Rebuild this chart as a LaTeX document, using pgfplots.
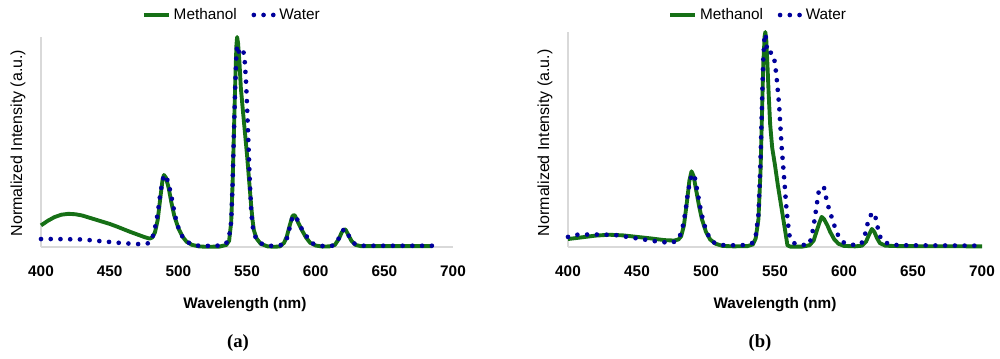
\documentclass[border=0pt]{standalone}
\usepackage{fontspec}
\setmainfont{Liberation Sans}
\newfontfamily\timesf{Liberation Serif}
\usepackage{pgfplots}
\pgfplotsset{compat=1.18}
\definecolor{mgreen}{RGB}{22,112,22}
\definecolor{wblue}{RGB}{0,0,155}
\definecolor{axgray}{RGB}{217,217,217}
\pgfplotsset{
  spec/.style={
    scale only axis,
    anchor=south west,
    xmin=400, xmax=700, ymin=0, ymax=1,
    axis x line=bottom, axis y line=left,
    axis line style={axgray, line width=0.9pt, -},
    xtick={400,450,...,700}, ytick=\empty,
    major tick length=0pt,
    /pgf/number format/assume math mode=true,
    xticklabel style={font=\fontsize{11.5}{13}\selectfont\bfseries, anchor=center, yshift=-18.5pt},
    xlabel={Wavelength (nm)},
    xlabel style={font=\fontsize{11.5}{13}\selectfont\bfseries, at={(axis description cs:0.495,0)}, anchor=center, yshift=-43.5pt},
    ylabel={Normalized Intensity (a.u.)},
    ylabel style={font=\fontsize{12}{14}\selectfont, at={(axis description cs:0,0.5)}, anchor=center, yshift=17.3pt},
    clip=false,
    legend columns=2,
    legend style={draw=none, fill=none, font=\fontsize{11.5}{13}\selectfont, inner sep=0pt,
      /tikz/every even column/.append style={column sep=9pt}},
    legend cell align=left,
  },
  meth/.style={mgreen, line width=2.9pt, line join=round,
    legend image code/.code={\draw[##1] (0pt,0pt) -- (19pt,0pt);}},
  wat/.style={wblue, line width=3.5pt, line cap=round, dash pattern=on 0pt off 7.3pt,
    legend image code/.code={\draw[##1] (1.5pt,0pt) -- (17pt,0pt);}},
}
\begin{document}
\begin{tikzpicture}
\useasboundingbox (0,0) rectangle (750pt,268.5pt);
% ---------------- (a)
\begin{axis}[spec, at={(30.75pt,83.25pt)}, width=309pt, height=157.5pt,
  ylabel style={at={(axis description cs:0,0.495)}},
  legend style={at={(axis description cs:0.464,1.105)}, anchor=center}]
\addplot[meth] coordinates {
(400,0.103)(405,0.125)(410,0.143)(415,0.154)(420,0.158)(425,0.156)(430,0.150)(435,0.140)(440,0.130)(445,0.120)(450,0.110)(455,0.098)(460,0.085)(465,0.072)(470,0.060)(475,0.048)(479,0.040)(481,0.045)(483,0.07)(485,0.13)(487,0.24)(488.5,0.32)(489.5,0.343)(491,0.33)(493,0.28)(495,0.21)(497,0.15)(500,0.09)(503,0.05)(506,0.025)(510,0.01)(515,0.003)(520,0.001)(530,0.002)(535,0.01)(537,0.03)(538.5,0.12)(539.5,0.3)(540.5,0.55)(541.5,0.8)(542.3,0.96)(542.8,1.0)(543.5,0.97)(544.5,0.88)(545.5,0.76)(547,0.65)(548,0.58)(549,0.51)(550,0.44)(551,0.36)(552,0.28)(553,0.2)(554,0.13)(555,0.08)(557,0.04)(560,0.015)(565,0.003)(570,0.001)(574,0.003)(577,0.02)(579,0.05)(581,0.1)(583,0.145)(584,0.153)(585,0.148)(587,0.12)(590,0.08)(593,0.045)(596,0.02)(600,0.007)(605,0.002)(610,0.003)(614,0.01)(617,0.04)(619,0.07)(621,0.085)(622,0.08)(624,0.055)(626,0.03)(629,0.01)(633,0.004)(640,0.004)(660,0.004)(685,0.004)
};
\addlegendentry{Methanol}
\addplot[wat] coordinates {
(400,0.038)(410,0.038)(420,0.037)(430,0.036)(440,0.03)(450,0.024)(460,0.018)(470,0.014)(476,0.014)(479,0.02)(481,0.04)(483,0.09)(485,0.16)(487,0.26)(489,0.33)(490,0.343)(491,0.34)(493,0.3)(495,0.24)(497,0.17)(499,0.11)(502,0.06)(505,0.03)(510,0.012)(515,0.006)(525,0.005)(532,0.008)(535,0.02)(537,0.05)(538.5,0.12)(539.5,0.3)(540.5,0.55)(541.5,0.78)(542.3,0.92)(542.8,0.96)(544,0.93)(545.5,0.92)(547.2,0.937)(548.2,0.9)(549.2,0.8)(550,0.68)(551,0.5)(552,0.32)(553,0.18)(554,0.1)(556,0.05)(559,0.02)(565,0.006)(572,0.005)(576,0.012)(579,0.04)(581,0.09)(583,0.14)(584.5,0.15)(586,0.14)(588,0.11)(590,0.085)(592,0.065)(594,0.045)(597,0.02)(600,0.01)(606,0.004)(612,0.006)(615,0.02)(618,0.055)(620.5,0.085)(622,0.08)(624,0.055)(626,0.03)(629,0.012)(634,0.006)(645,0.006)(685,0.006)
};
\addlegendentry{Water}
\end{axis}
\node[font=\timesf\fontsize{14}{16}\selectfont\bfseries] at (178.5pt,11pt) {(a)};
% ---------------- (b)
\begin{axis}[spec, at={(426pt,83.25pt)}, width=310.5pt, height=161.25pt,
  xlabel style={at={(axis description cs:0.5,0)}},
  ylabel style={at={(axis description cs:0,0.485)}},
  legend style={at={(axis description cs:0.46,1.079)}, anchor=center}]
\addplot[meth] coordinates {
(400,0.037)(410,0.045)(420,0.053)(430,0.057)(440,0.054)(450,0.047)(460,0.04)(470,0.032)(477,0.03)(480,0.035)(482,0.05)(484,0.1)(486,0.2)(488,0.31)(489.5,0.352)(491,0.33)(493,0.26)(495,0.19)(497,0.13)(500,0.07)(503,0.035)(507,0.015)(512,0.005)(520,0.003)(530,0.004)(534,0.012)(536,0.04)(538,0.13)(539.5,0.35)(540.5,0.6)(541.5,0.85)(542.5,0.98)(543,1.0)(543.7,0.96)(544.5,0.85)(545.5,0.7)(546.5,0.57)(548,0.46)(550,0.38)(552,0.29)(554,0.21)(556,0.13)(558,0.05)(559,0.008)(561,0.002)(570,0.002)(575,0.008)(578,0.03)(580,0.07)(582,0.11)(583.8,0.14)(585.5,0.13)(588,0.1)(590,0.07)(593,0.035)(596,0.015)(600,0.005)(608,0.003)(613,0.006)(616,0.025)(618,0.055)(620.2,0.084)(622,0.07)(624,0.04)(626,0.018)(630,0.006)(640,0.004)(700,0.003)
};
\addlegendentry{Methanol}
\addplot[wat] coordinates {
(400,0.047)(405,0.057)(415,0.058)(425,0.058)(435,0.055)(445,0.045)(455,0.035)(465,0.025)(475,0.019)(479,0.03)(481,0.05)(483,0.09)(485,0.16)(487,0.26)(489,0.32)(490.5,0.341)(492,0.32)(494,0.25)(496,0.18)(498,0.12)(500,0.08)(503,0.035)(507,0.015)(512,0.009)(520,0.008)(530,0.009)(534,0.02)(536,0.05)(538,0.15)(539.5,0.4)(540.5,0.65)(541.5,0.87)(542.5,0.99)(543.2,0.99)(544,0.93)(545,0.9)(547.5,0.905)(549.7,0.865)(551,0.8)(552,0.73)(553,0.66)(554,0.55)(555,0.45)(556,0.37)(557,0.29)(558,0.2)(559.4,0.11)(560.6,0.05)(563,0.02)(568,0.008)(575,0.012)(577.5,0.08)(579,0.14)(581,0.23)(582,0.27)(583.5,0.277)(585.5,0.277)(587,0.23)(589,0.18)(591,0.14)(593,0.1)(596,0.05)(600,0.02)(606,0.01)(612,0.012)(614.4,0.034)(616,0.08)(617.8,0.127)(620,0.155)(622.2,0.158)(623.4,0.12)(625.3,0.065)(627,0.035)(629.4,0.022)(635,0.01)(645,0.008)(700,0.006)
};
\addlegendentry{Water}
\end{axis}
\node[font=\timesf\fontsize{14}{16}\selectfont\bfseries] at (570pt,11pt) {(b)};
\end{tikzpicture}
\end{document}
